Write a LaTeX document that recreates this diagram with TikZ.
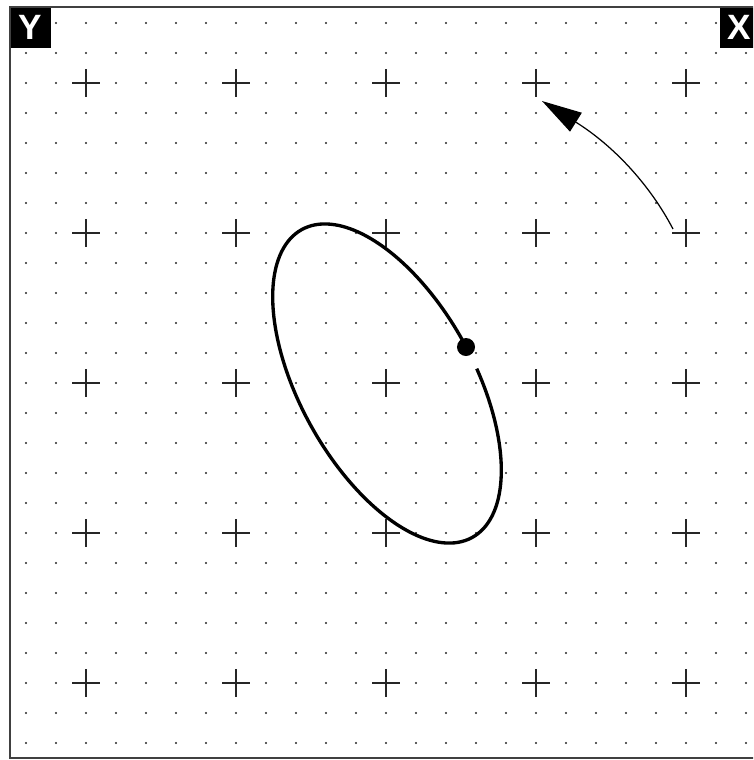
\documentclass[tikz,border=0pt]{standalone}
\usepackage{fontspec}
\setsansfont{Liberation Sans}
\usetikzlibrary{arrows.meta}

\begin{document}
\begin{tikzpicture}[x=0.01cm, y=-0.01cm,
    gridpt/.style={fill=black!85},
    crossmark/.style={black!85, line width=0.6pt},
    frameline/.style={black!75, line width=0.7pt},
    orbit/.style={black, line width=0.95pt},
    craft/.style={circle, fill=black, minimum size=0.18cm, inner sep=0pt},
    flight/.style={-{Triangle[length=0.4cm, width=0.22cm]}, black, line width=0.35pt},
    axislabel/.style={fill=black, text=white, minimum size=0.4cm, inner sep=0pt,
      font=\sffamily\bfseries\fontsize{10}{12}\selectfont},
  ]
  \clip (0,0) rectangle (753,760);
  \fill[white] (0,0) rectangle (753,760);
  \draw[frameline] (10,7) rectangle (760,758);
  % dot grid
  \foreach \i in {0,...,24} {
    \foreach \j in {0,...,24} {
      \fill[gridpt] (26+\i*30, 23+\j*30) circle (1.1);
    }
  }
  % crosses every fifth dot
  \foreach \i in {0,...,4} {
    \foreach \j in {0,...,4} {
      \coordinate (p\i\j) at (86+\i*150, 83+\j*150);
      \draw[crossmark] (p\i\j) ++(-14,0) -- ++(28,0) (p\i\j) ++(0,-14) -- ++(0,28);
    }
  }
  % orbit, open just past the craft
  \draw[orbit] plot[domain=-80:272, samples=150, smooth]
    ({387 + 85.3*cos(\x) - 76.1*sin(\x)}, {383.5 + 153.9*cos(\x) + 42.2*sin(\x)});
  \node[craft] (sat) at (466,347) {};
  % direction arrow
  \coordinate (from) at (673,229);
  \coordinate (to) at (542,101);
  \draw[flight] (from) .. controls (650,185) and (614,146) .. (to);
  \node[axislabel, anchor=north west] (ylab) at (10,7) {Y};
  \node[axislabel, anchor=north west] (xlab) at (719,7) {X};
\end{tikzpicture}
\end{document}
